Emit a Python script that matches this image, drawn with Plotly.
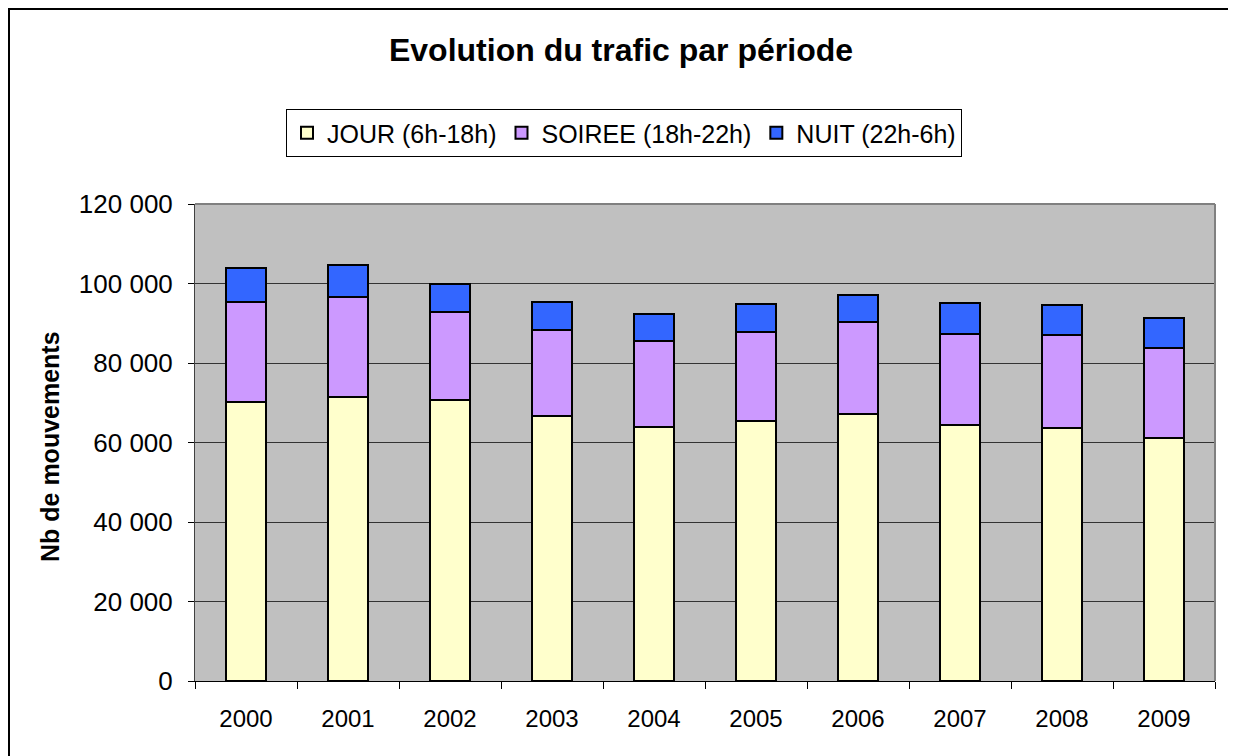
import plotly.graph_objects as go

years = ["2000", "2001", "2002", "2003", "2004", "2005", "2006", "2007", "2008", "2009"]
# cumulative tops
jour = [70200, 71500, 70600, 66700, 63800, 65300, 67100, 64300, 63600, 61100]
jour_soiree_top = [95300, 96700, 92900, 88200, 85500, 87800, 90300, 87400, 87000, 83700]
total_top = [103900, 104700, 100000, 95400, 92300, 94800, 97200, 95100, 94600, 91200]

soiree = [b - a for a, b in zip(jour, jour_soiree_top)]
nuit = [b - a for a, b in zip(jour_soiree_top, total_top)]

series_names = ["JOUR (6h-18h)", "SOIREE (18h-22h)", "NUIT (22h-6h)"]
series_colors = ["#FFFFCC", "#CC99FF", "#3366FF"]
series_values = [jour, soiree, nuit]

FONT = "Liberation Sans, Arial, sans-serif"

fig = go.Figure()
for name, col, vals in zip(series_names, series_colors, series_values):
    fig.add_trace(go.Bar(
        x=years, y=vals, name=name,
        marker=dict(color=col, line=dict(color="black", width=2)),
    ))

# page is rendered with an 8px body offset; coordinates below are figure coords
W, H = 1236, 756
L, R, T, B = 187, 29, 196, 83
pw = W - L - R
ph = H - T - B


def px(xf):
    return (xf - L) / pw


def py(yf):
    return (H - B - yf) / ph


fig.update_layout(
    width=W, height=H,
    barmode="stack", bargap=0.6,
    separators=", ",
    paper_bgcolor="white", plot_bgcolor="#C0C0C0",
    margin=dict(l=L, r=R, t=T, b=B, pad=0),
    font=dict(family=FONT, size=24, color="black"),
    title=dict(text="<b>Evolution du trafic par période</b>", x=613 / W, xanchor="center",
               y=1 - 42 / H, yanchor="middle", font=dict(size=32, family=FONT)),
    legend=dict(orientation="h", x=px(616), xanchor="center",
                y=py(125), yanchor="middle",
                bordercolor="black", borderwidth=1, bgcolor="white",
                font=dict(size=25, family=FONT), traceorder="normal",
                itemwidth=30, itemsizing="constant"),
    showlegend=True,
)

fig.update_yaxes(range=[0, 120000], tickvals=[0, 20000, 40000, 60000, 80000, 100000, 120000],
                 tickformat=",.0f", showgrid=True, gridcolor="#333333", gridwidth=1,
                 ticks="outside", ticklen=6, tickcolor="black",
                 showline=True, linecolor="#404040", linewidth=1,
                 tickfont=dict(size=26), zeroline=False, ticklabelstandoff=10)
fig.update_xaxes(type="category", tickson="boundaries", ticks="outside", ticklen=7,
                 tickcolor="black", showline=True, linecolor="black", linewidth=1,
                 showgrid=False, tickfont=dict(size=24), ticklabelstandoff=16)

# y-axis title
fig.add_annotation(text="<b>Nb de mouvements</b>", textangle=-90, xref="paper", yref="paper",
                   x=px(42), y=py(439), showarrow=False,
                   font=dict(size=25, family=FONT), xanchor="center", yanchor="middle")

# plot area top/right border (gray)
fig.add_shape(type="line", xref="paper", yref="paper", x0=0, x1=1, y0=1, y1=1,
              line=dict(color="#808080", width=2))
fig.add_shape(type="line", xref="paper", yref="paper", x0=1, x1=1, y0=0, y1=1,
              line=dict(color="#808080", width=2))

# outer chart border
fig.add_shape(type="rect", xref="paper", yref="paper",
              x0=px(1), x1=px(1226), y0=py(780), y1=py(1),
              line=dict(color="black", width=2), fillcolor="rgba(0,0,0,0)", layer="above")

fig.write_html("out.html")
